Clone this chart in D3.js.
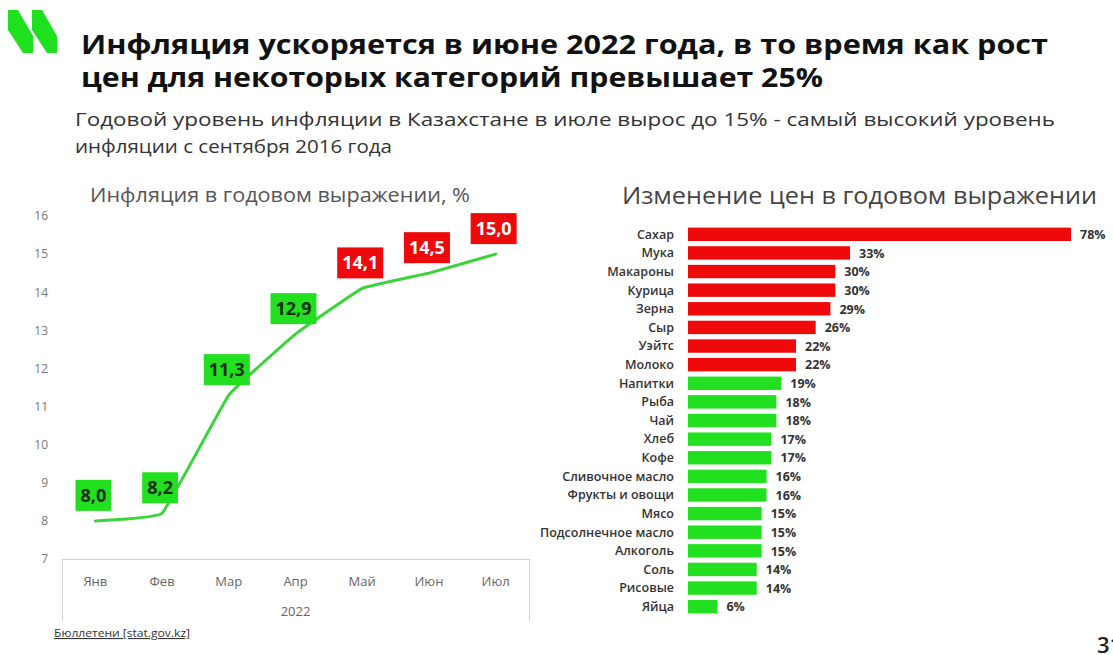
<!DOCTYPE html>
<html lang="ru">
<head>
<meta charset="utf-8">
<script src="https://cdn.jsdelivr.net/npm/d3@7"></script>
<style>
  html, body { margin: 0; padding: 0; background: #fff; }
  svg { display: block; }
</style>
</head>
<body>
<svg id="chart" width="1113" height="655"></svg>
<script>
// Monthly year-on-year inflation, 2022
const months = ["Янв", "Фев", "Мар", "Апр", "Май", "Июн", "Июл"];
const inflation = [8.0, 8.2, 11.3, 12.9, 14.1, 14.5, 15.0];
const inflationTicks = [7, 8, 9, 10, 11, 12, 13, 14, 15, 16];
const yearLabel = "2022";

// Year-on-year price change by product group, %
const categories = ["Сахар", "Мука", "Макароны", "Курица", "Зерна", "Сыр", "Уэйтс", "Молоко",
  "Напитки", "Рыба", "Чай", "Хлеб", "Кофе", "Сливочное масло", "Фрукты и овощи", "Мясо",
  "Подсолнечное масло", "Алкоголь", "Соль", "Рисовые", "Яйца"];
const priceChange = [78, 33, 30, 30, 29, 26, 22, 22, 19, 18, 18, 17, 17, 16, 16, 15, 15, 15, 14, 14, 6];

const GREEN = "#22e01f";
const RED = "#ee0a0a";
const LINE_GREEN = "#3ad33a";
const FONT = "'Open Sans', 'Noto Sans', sans-serif";

const svg = d3.select("#chart");

// ---- Logo ----
const logoShape = [[0, 0], [10, 0], [25, 26], [25, 43], [15, 43], [0, 20]];
[8, 32].forEach(dx => {
  svg.append("polygon")
    .attr("points", logoShape.map(p => [p[0] + dx, p[1] + 10].join(",")).join(" "))
    .attr("fill", "#1fe01f");
});

// ---- Headline and subtitle ----
const head = svg.append("g").attr("font-family", FONT);
[["Инфляция ускоряется в июне 2022 года, в то время как рост", 54, 967],
 ["цен для некоторых категорий превышает 25%", 87, 742]].forEach(([t, y, w]) => {
  head.append("text").attr("x", 81).attr("y", y).text(t)
    .attr("font-size", 26).attr("font-weight", 700).attr("fill", "#111")
    .attr("textLength", w).attr("lengthAdjust", "spacingAndGlyphs");
});
[["Годовой уровень инфляции в Казахстане в июле вырос до 15% - самый высокий уровень", 126, 980],
 ["инфляции с сентября 2016 года", 153, 317]].forEach(([t, y, w]) => {
  head.append("text").attr("x", 75).attr("y", y).text(t)
    .attr("font-size", 19).attr("fill", "#333")
    .attr("textLength", w).attr("lengthAdjust", "spacingAndGlyphs");
});

// ---- Left: inflation line chart ----
const x = d3.scaleBand().domain(months).range([62, 529]);
const y = d3.scaleLinear().domain([7, 16]).range([559, 216]);

svg.append("text").attr("x", 90).attr("y", 202)
  .attr("font-family", FONT).attr("font-size", 20).attr("fill", "#555")
  .attr("textLength", 380).attr("lengthAdjust", "spacingAndGlyphs")
  .text("Инфляция в годовом выражении, %");

const yAxis = svg.append("g")
  .attr("transform", "translate(48,0)")
  .call(d3.axisLeft(y).tickValues(inflationTicks).tickSize(0).tickPadding(0).tickFormat(d3.format("d")));
yAxis.select(".domain").remove();
yAxis.selectAll("text").attr("font-family", FONT).attr("font-size", 12).attr("fill", "#777");

// Category axis drawn as a framed two-level box
const axisG = svg.append("g").attr("stroke", "#d0d0d0").attr("stroke-width", 1);
axisG.append("line").attr("x1", x.range()[0]).attr("x2", x.range()[1]).attr("y1", y(7) + 0.5).attr("y2", y(7) + 0.5);
x.range().forEach(px => {
  axisG.append("line").attr("x1", px + 0.5).attr("x2", px + 0.5).attr("y1", y(7)).attr("y2", 620);
});
const xAxis = svg.append("g")
  .attr("transform", `translate(0,${y(7)})`)
  .call(d3.axisBottom(x).tickSize(0).tickPadding(18));
xAxis.select(".domain").remove();
xAxis.selectAll("text").attr("font-family", FONT).attr("font-size", 13).attr("fill", "#666");
svg.append("text").attr("x", (x.range()[0] + x.range()[1]) / 2).attr("y", 616)
  .attr("text-anchor", "middle").attr("font-family", FONT).attr("font-size", 13).attr("fill", "#666")
  .text(yearLabel);

const pts = months.map((m, i) => [x(m) + x.bandwidth() / 2, y(inflation[i])]);
svg.append("path")
  .attr("d", d3.line().curve(d3.curveCardinal.tension(0.75))(pts))
  .attr("fill", "none").attr("stroke", LINE_GREEN).attr("stroke-width", 3).attr("stroke-linecap", "round");

const fmt = v => v.toFixed(1).replace(".", ",");
const labels = svg.append("g").attr("font-family", FONT);
months.forEach((m, i) => {
  const v = inflation[i];
  const hot = v > 14;
  const cx = pts[i][0] - 2;
  const g = labels.append("g");
  const t = g.append("text").attr("x", cx).attr("y", pts[i][1] - 19)
    .attr("text-anchor", "middle").attr("font-size", 18).attr("font-weight", 700)
    .attr("fill", hot ? "#fff" : "#163016").text(fmt(v));
  const w = t.node().getComputedTextLength() + 10;
  g.insert("rect", "text").attr("x", cx - w / 2).attr("y", pts[i][1] - 41)
    .attr("width", w).attr("height", 31).attr("fill", hot ? RED : GREEN);
});

// ---- Right: horizontal bar chart ----
svg.append("text").attr("x", 622).attr("y", 204)
  .attr("font-family", FONT).attr("font-size", 23).attr("fill", "#444")
  .attr("textLength", 475).attr("lengthAdjust", "spacingAndGlyphs")
  .text("Изменение цен в годовом выражении");

const bx = d3.scaleLinear().domain([0, 78]).range([688, 1071]);
const by = d3.scaleBand().domain(categories).range([225, 616]).paddingInner(0.28).paddingOuter(0.14);

const rows = svg.append("g").selectAll("g").data(categories).join("g")
  .attr("transform", d => `translate(0,${by(d)})`);
rows.append("rect")
  .attr("x", bx(0)).attr("y", 0)
  .attr("width", (d, i) => bx(priceChange[i]) - bx(0)).attr("height", by.bandwidth())
  .attr("fill", (d, i) => priceChange[i] > 20 ? RED : GREEN);
rows.append("text")
  .attr("x", 674).attr("y", by.bandwidth() / 2).attr("dy", "0.35em")
  .attr("text-anchor", "end").attr("font-family", FONT).attr("font-size", 12.5).attr("font-weight", 600)
  .attr("fill", "#333").text(d => d);
rows.append("text")
  .attr("x", (d, i) => bx(priceChange[i]) + 9).attr("y", by.bandwidth() / 2).attr("dy", "0.38em")
  .attr("font-family", FONT).attr("font-size", 12.5).attr("font-weight", 700)
  .attr("fill", "#333").text((d, i) => priceChange[i] + "%");

// ---- Footer ----
svg.append("text").attr("x", 54).attr("y", 637)
  .attr("font-family", FONT).attr("font-size", 11).attr("fill", "#333")
  .attr("text-decoration", "underline")
  .attr("textLength", 136).attr("lengthAdjust", "spacingAndGlyphs")
  .text("Бюллетени [stat.gov.kz]");
svg.append("text").attr("x", 1097).attr("y", 653)
  .attr("font-family", FONT).attr("font-size", 22).attr("font-weight", 600).attr("fill", "#222")
  .text("31");
</script>
</body>
</html>
